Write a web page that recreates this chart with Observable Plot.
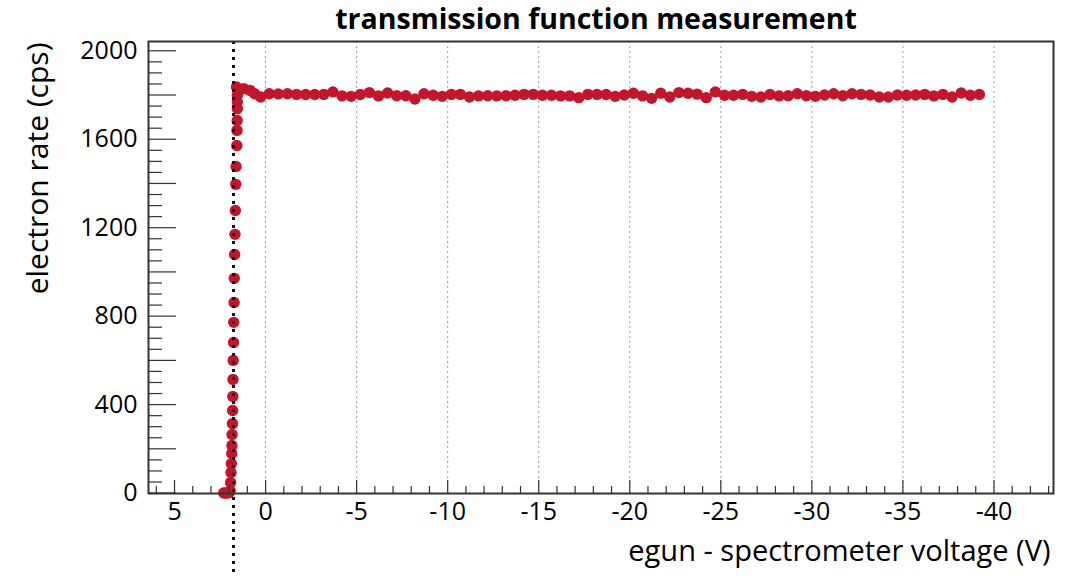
<!DOCTYPE html>
<html>
<head>
<meta charset="utf-8">
<script src="https://cdn.jsdelivr.net/npm/d3@7"></script>
<script src="https://cdn.jsdelivr.net/npm/@observablehq/plot@0.6"></script>
<style>
  html, body { margin: 0; padding: 0; background: #fff; }
  svg { display: block; }
</style>
</head>
<body>
<div id="chart"></div>
<script>
// ---- data ----
const titleText = "transmission function measurement";
const xLabelText = "egun - spectrometer voltage (V)";
const yLabelText = "electron rate (cps)";

// rising edge (voltage in V, rate in cps)
const edgeVoltage = [2.30, 2.20, 2.10, 2.00, 1.95, 1.92, 1.90, 1.88, 1.86, 1.85, 1.84, 1.82, 1.81, 1.80, 1.79, 1.78, 1.76, 1.75, 1.73, 1.72, 1.70, 1.68, 1.66, 1.64, 1.62, 1.58, 1.57, 1.56, 1.55, 1.55, 1.55, 1.60, 1.20, 0.85, 0.60, 0.27];
const edgeRate    = [0, 0, 0, 2, 10, 48, 93, 133, 179, 215, 265, 314, 373, 437, 514, 600, 681, 772, 862, 971, 1079, 1170, 1278, 1396, 1477, 1572, 1640, 1685, 1738, 1768, 1799, 1836, 1829, 1821, 1806, 1791];

// plateau
const plateauVoltage = [-0.2, -0.7, -1.2, -1.7, -2.2, -2.7, -3.2, -3.7, -4.2, -4.7, -5.2, -5.7, -6.2, -6.7, -7.2, -7.7, -8.2, -8.7, -9.2, -9.7,
  -10.2, -10.7, -11.2, -11.7, -12.2, -12.7, -13.2, -13.7, -14.2, -14.7, -15.2, -15.7, -16.2, -16.7, -17.2, -17.7, -18.2, -18.7, -19.2, -19.7,
  -20.2, -20.7, -21.2, -21.7, -22.2, -22.7, -23.2, -23.7, -24.2, -24.7, -25.2, -25.7, -26.2, -26.7, -27.2, -27.7, -28.2, -28.7, -29.2, -29.7,
  -30.2, -30.7, -31.2, -31.7, -32.2, -32.7, -33.2, -33.7, -34.2, -34.7, -35.2, -35.7, -36.2, -36.7, -37.2, -37.7, -38.2, -38.7, -39.2];
const plateauRate = [1806, 1805, 1806, 1803, 1802, 1802, 1803, 1814, 1796, 1794, 1802, 1811, 1796, 1809, 1797, 1797, 1782, 1806, 1799, 1794,
  1803, 1803, 1791, 1796, 1797, 1796, 1797, 1799, 1803, 1803, 1799, 1799, 1796, 1796, 1788, 1803, 1803, 1802, 1794, 1800,
  1808, 1796, 1785, 1808, 1791, 1811, 1808, 1804, 1788, 1814, 1799, 1799, 1803, 1794, 1791, 1802, 1796, 1797, 1806, 1797,
  1794, 1800, 1806, 1797, 1806, 1803, 1800, 1791, 1791, 1800, 1799, 1800, 1803, 1796, 1803, 1791, 1809, 1799, 1802];

// threshold marker (dotted vertical line)
const thresholdVoltage = [1.76];

// axes
const xDomain = [6.43, -43.27];
const yDomain = [-2, 2042];
const xTickLabels = [5, 0, -5, -10, -15, -20, -25, -30, -35, -40];
const xGridValues = [0, -5, -10, -15, -20, -25, -30, -35, -40];
const xMinorTicks = d3.range(6, -44, -1).filter(v => v % 5 !== 0);
const yTickLabels = [0, 400, 800, 1200, 1600, 2000];
const yMajorTicks = d3.range(0, 2001, 200);
const yMinorTicks = d3.range(0, 2001, 50).filter(v => v % 200 !== 0);

// ---- build tables ----
const edge = edgeVoltage.map((v, i) => ({voltage: v, rate: edgeRate[i]}));
const plateau = plateauVoltage.map((v, i) => ({voltage: v, rate: plateauRate[i]}));
const points = edge.concat(plateau);

const red = "#c1162b";
const axisColor = "#333";
const font = "'Open Sans', 'Noto Sans', sans-serif";

const chart = Plot.plot({
  width: 1070,
  height: 576,
  marginLeft: 148,
  marginRight: 17,
  marginTop: 41,
  marginBottom: 83,
  style: {fontFamily: font, background: "#fff", color: "#000"},
  x: {domain: xDomain},
  y: {domain: yDomain},
  marks: [
    Plot.gridX(xGridValues, {stroke: "#999", strokeOpacity: 1, strokeWidth: 1, strokeDasharray: "2,3"}),
    Plot.dot(points, {x: "voltage", y: "rate", r: 5.7, fill: red, stroke: "none"}),
    Plot.ruleX(thresholdVoltage, {x: d => d, y1: yDomain[1], y2: -400, stroke: "#111", strokeWidth: 3, strokeDasharray: "3,5"}),
    // y axis
    Plot.axisY(yMajorTicks, {anchor: "left", tickSize: -28, fill: "none", stroke: axisColor, strokeWidth: 1.2, label: null}),
    Plot.axisY(yMinorTicks, {anchor: "left", tickSize: -14, fill: "none", stroke: axisColor, strokeWidth: 1.2, label: null}),
    Plot.axisY(yTickLabels, {anchor: "left", tickSize: 0, tickPadding: 11, tickFormat: d => String(d), fontSize: 25, fill: "#000", label: null}),
    // x axis
    Plot.axisX(xTickLabels, {anchor: "bottom", tickSize: -13, fill: "none", stroke: axisColor, strokeWidth: 1.2, label: null}),
    Plot.axisX(xMinorTicks, {anchor: "bottom", tickSize: -7, fill: "none", stroke: axisColor, strokeWidth: 1.2, label: null}),
    Plot.axisX(xTickLabels, {anchor: "bottom", tickSize: 0, tickPadding: 9, tickFormat: d => String(d), fontSize: 25, fill: "#000", label: null}),
    Plot.frame({stroke: axisColor, strokeWidth: 2}),
    // texts
    Plot.text([titleText], {text: d => d, frameAnchor: "top", lineAnchor: "middle", dx: -5, dy: -22, fontSize: 28.5, fontWeight: "bold", fill: "#000"}),
    Plot.text([xLabelText], {text: d => d, frameAnchor: "bottom-right", lineAnchor: "middle", textAnchor: "end", dx: -3, dy: 58, fontSize: 29, fill: "#000"}),
    Plot.text([yLabelText], {text: d => d, frameAnchor: "top-left", lineAnchor: "middle", textAnchor: "end", rotate: -90, dx: -110, dy: 1, fontSize: 30, fill: "#000"})
  ]
});
document.getElementById("chart").appendChild(chart);
</script>
</body>
</html>
